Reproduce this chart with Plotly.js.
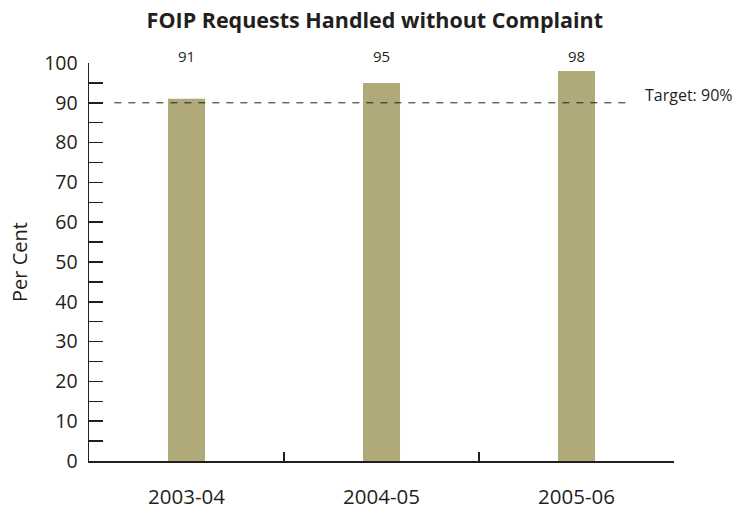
<!DOCTYPE html>
<html>
<head>
<meta charset="utf-8">
<script src="https://cdn.plot.ly/plotly-3.0.1.min.js"></script>
<style>html,body{margin:0;padding:0;background:#fff;}#chart{width:735px;height:510px;}</style>
</head>
<body>
<div id="chart"></div>
<script>
const categories = ["2003-04", "2004-05", "2005-06"];
const values = [91, 95, 98];
const valueLabels = ["91", "95", "98"];
const targetValue = 90;
const targetLabel = "Target: 90%";
const yTickVals = [0, 10, 20, 30, 40, 50, 60, 70, 80, 90, 100];

const ink = "#231f20";
const fontFam = "'Open Sans', 'Noto Sans', sans-serif";

const trace = {
  type: "bar",
  x: categories,
  y: values,
  marker: { color: "#b0a97a" },
  hoverinfo: "x+y"
};

const annotations = categories.map((c, i) => ({
  x: c, y: 1.017, xref: "x", yref: "paper",
  text: valueLabels[i], showarrow: false,
  xanchor: "center", yanchor: "middle",
  font: { size: 15, color: ink, family: fontFam }
}));
annotations.push({
  x: 1.0, y: targetValue, xref: "paper", yref: "y",
  text: targetLabel, showarrow: false, xanchor: "left", yanchor: "middle",
  xshift: -31, yshift: 8,
  font: { size: 16, color: ink, family: fontFam }
});

const layout = {
  width: 735, height: 510,
  margin: { l: 89, r: 61, t: 63, b: 49 },
  paper_bgcolor: "#fff", plot_bgcolor: "#fff",
  showlegend: false,
  bargap: 0.81,
  title: {
    text: "<b>FOIP Requests Handled without Complaint</b>",
    x: 0.51, xanchor: "center", y: 0.96, yanchor: "middle",
    font: { size: 21.5, color: ink, family: fontFam }
  },
  xaxis: {
    type: "category",
    showline: true, linecolor: ink, linewidth: 1.5,
    ticks: "inside", tickson: "boundaries", ticklen: 9, tickwidth: 2, tickcolor: ink,
    showgrid: false, zeroline: false,
    tickfont: { size: 20.5, color: ink, family: fontFam },
    ticklabelstandoff: 17
  },
  yaxis: {
    range: [0, 100],
    tickvals: yTickVals,
    showline: true, linecolor: ink, linewidth: 1.5,
    ticks: "inside", ticklen: 14, tickwidth: 1.5, tickcolor: ink,
    minor: { dtick: 5, ticks: "inside", ticklen: 14, tickwidth: 1.5, tickcolor: ink },
    showgrid: false, zeroline: false,
    tickfont: { size: 19.5, color: ink, family: fontFam },
    ticklabelstandoff: 6,
    title: { text: "Per Cent", standoff: 11, font: { size: 20, color: ink, family: fontFam } }
  },
  shapes: [{
    type: "line", xref: "x", yref: "y",
    x0: -0.37, x1: 2.27, y0: targetValue, y1: targetValue,
    line: { color: ink, width: 1, dash: "7px,7px" }
  }],
  annotations: annotations
};

Plotly.newPlot("chart", [trace], layout, { displayModeBar: false, staticPlot: true });
</script>
</body>
</html>
